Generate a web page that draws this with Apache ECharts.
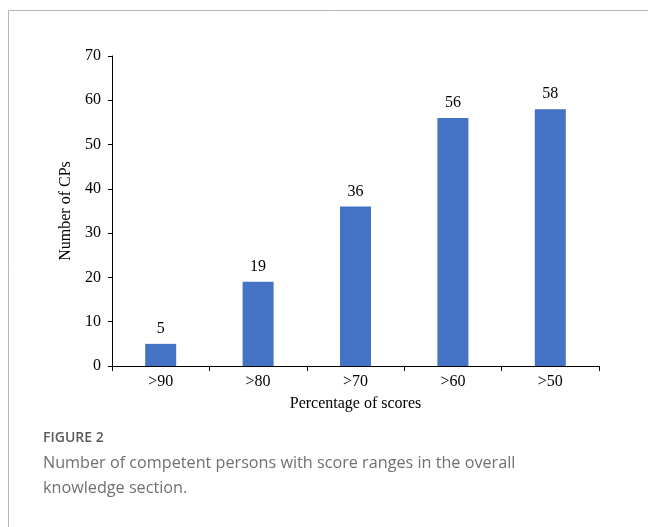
<!DOCTYPE html>
<html>
<head>
<meta charset="utf-8">
<script src="https://cdn.jsdelivr.net/npm/echarts@6/dist/echarts.min.js"></script>
<style>
  html, body { margin: 0; padding: 0; background: #fff; }
  #chart { width: 648px; height: 527px; }
</style>
</head>
<body>
<div id="chart"></div>
<script>
// Score ranges and number of competent persons in each
const categories = ['>90', '>80', '>70', '>60', '>50'];
const counts = [5, 19, 36, 56, 58];

// Y axis range
const yMin = 0;
const yMax = 70;
const yStep = 10;

const serif = '"Liberation Serif", "Times New Roman", serif';
const sans = '"Open Sans", "Noto Sans", sans-serif';

const chart = echarts.init(document.getElementById('chart'), null, { renderer: 'canvas' });

chart.setOption({
  backgroundColor: '#ffffff',
  animation: false,
  grid: { left: 112, right: 49, top: 56, bottom: 161, containLabel: false },
  xAxis: {
    type: 'category',
    data: categories,
    boundaryGap: true,
    name: 'Percentage of scores',
    nameLocation: 'middle',
    nameGap: 30,
    nameTextStyle: { fontFamily: serif, fontSize: 16, color: '#000' },
    axisLine: { show: true, lineStyle: { color: '#000', width: 1 } },
    axisTick: { show: true, alignWithLabel: false, length: 5, lineStyle: { color: '#000' } },
    axisLabel: { fontFamily: serif, fontSize: 16, color: '#000', margin: 8 },
    splitLine: { show: false }
  },
  yAxis: {
    type: 'value',
    min: yMin,
    max: yMax,
    interval: yStep,
    name: 'Number of CPs',
    nameLocation: 'middle',
    nameGap: 35,
    nameRotate: 90,
    nameTextStyle: { fontFamily: serif, fontSize: 16, color: '#000' },
    axisLine: { show: true, lineStyle: { color: '#000', width: 1 } },
    axisTick: { show: true, length: 4, lineStyle: { color: '#000' } },
    axisLabel: { fontFamily: serif, fontSize: 16, color: '#000', margin: 11 },
    splitLine: { show: false }
  },
  series: [{
    type: 'bar',
    data: counts,
    barWidth: 31,
    itemStyle: { color: '#4472C4' },
    label: {
      show: true,
      position: 'top',
      distance: 7,
      fontFamily: serif,
      fontSize: 16,
      color: '#000'
    }
  }],
  graphic: [
    {
      type: 'polyline',
      shape: { points: [[8.5, 527], [8.5, 10.5], [648, 10.5]] },
      style: { stroke: '#b5b5b5', lineWidth: 1, fill: null },
      silent: true
    },
    {
      type: 'text',
      left: 43,
      top: 431,
      style: {
        text: 'FIGURE 2',
        font: '600 14px ' + sans,
        fill: '#5a5a5a'
      }
    },
    {
      type: 'text',
      left: 43,
      top: 451,
      style: {
        text: 'Number of competent persons with score ranges in the overall\nknowledge section.',
        font: '16.2px ' + sans,
        lineHeight: 25,
        fill: '#707070'
      }
    }
  ]
});
</script>
</body>
</html>
